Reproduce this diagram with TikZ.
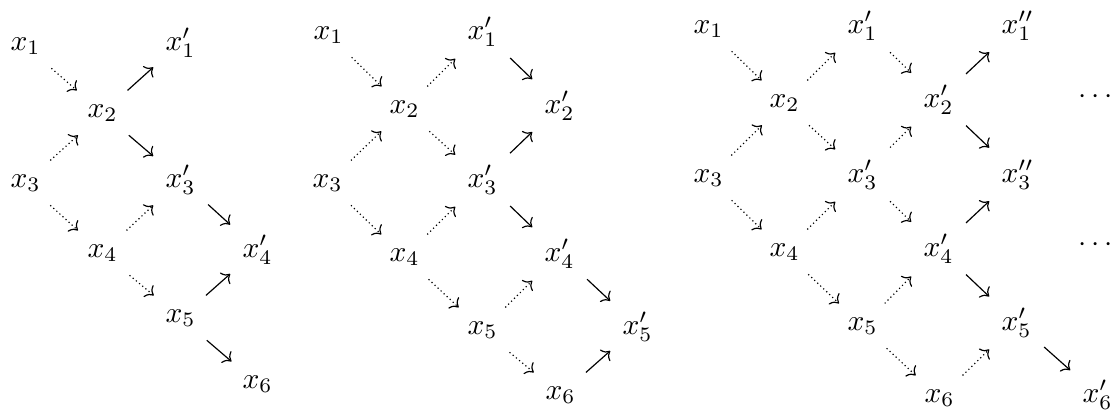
\documentclass[tikz,border=0pt]{standalone}
\usetikzlibrary{arrows.meta}
\begin{document}
\begin{tikzpicture}[x=0.339pt, y=-0.339pt,
  lab/.style={anchor=base west, inner xsep=4pt, inner ysep=4.5pt, xshift=-4pt},
  dotslab/.style={anchor=base west, inner sep=0pt},
  solarr/.style={-{Computer Modern Rightarrow}, line width=0.4pt},
  dotarr/.style={densely dotted, -{Computer Modern Rightarrow}, line width=0.4pt}]
\useasboundingbox (0,0) rectangle (1118,411);
% ---------- diagram 1 ----------
\node[lab] (a1)  at (10,50)   {$x_1$};
\node[lab] (a1p) at (165,50)  {$x'_1$};
\node[lab] (a2)  at (87,117)  {$x_2$};
\node[lab] (a3)  at (10,187)  {$x_3$};
\node[lab] (a3p) at (165,187) {$x'_3$};
\node[lab] (a4)  at (87,257)  {$x_4$};
\node[lab] (a4p) at (242,257) {$x'_4$};
\node[lab] (a5)  at (165,322) {$x_5$};
\node[lab] (a6)  at (242,388) {$x_6$};
\draw[dotarr] (a1) -- (a2);
\draw[dotarr] (a3) -- (a2);
\draw[solarr] (a2) -- (a1p);
\draw[solarr] (a2) -- (a3p);
\draw[dotarr] (a3) -- (a4);
\draw[dotarr] (a4) -- (a3p);
\draw[solarr] (a3p) -- (a4p);
\draw[dotarr] (a4) -- (a5);
\draw[solarr] (a5) -- (a4p);
\draw[solarr] (a5) -- (a6);
% ---------- diagram 2 ----------
\node[lab] (b1)  at (313,39)  {$x_1$};
\node[lab] (b1p) at (467,39)  {$x'_1$};
\node[lab] (b2)  at (389,113) {$x_2$};
\node[lab] (b2p) at (544,113) {$x'_2$};
\node[lab] (b3)  at (312,187) {$x_3$};
\node[lab] (b3p) at (467,187) {$x'_3$};
\node[lab] (b4)  at (389,261) {$x_4$};
\node[lab] (b4p) at (544,261) {$x'_4$};
\node[lab] (b5)  at (467,334) {$x_5$};
\node[lab] (b5p) at (622,334) {$x'_5$};
\node[lab] (b6)  at (545,399) {$x_6$};
\draw[dotarr] (b1) -- (b2);
\draw[dotarr] (b2) -- (b1p);
\draw[dotarr] (b3) -- (b2);
\draw[dotarr] (b2) -- (b3p);
\draw[solarr] (b1p) -- (b2p);
\draw[solarr] (b3p) -- (b2p);
\draw[dotarr] (b3) -- (b4);
\draw[dotarr] (b4) -- (b3p);
\draw[solarr] (b3p) -- (b4p);
\draw[dotarr] (b4) -- (b5);
\draw[dotarr] (b5) -- (b4p);
\draw[solarr] (b4p) -- (b5p);
\draw[dotarr] (b5) -- (b6);
\draw[solarr] (b6) -- (b5p);
% ---------- diagram 3 ----------
\node[lab] (c1)   at (693,33)   {$x_1$};
\node[lab] (c1p)  at (847,33)   {$x'_1$};
\node[lab] (c1pp) at (1001,33)  {$x''_1$};
\node[lab] (c2)   at (769,107)  {$x_2$};
\node[lab] (c2p)  at (923,107)  {$x'_2$};
\node[dotslab] (d1) at (1078,103) {$\cdots$};
\node[lab] (c3)   at (693,182)  {$x_3$};
\node[lab] (c3p)  at (847,182)  {$x'_3$};
\node[lab] (c3pp) at (1001,182) {$x''_3$};
\node[lab] (c4)   at (769,256)  {$x_4$};
\node[lab] (c4p)  at (923,256)  {$x'_4$};
\node[dotslab] (d2) at (1078,251) {$\cdots$};
\node[lab] (c5)   at (847,330)  {$x_5$};
\node[lab] (c5p)  at (1001,330) {$x'_5$};
\node[lab] (c6)   at (924,402)  {$x_6$};
\node[lab] (c6p)  at (1082,402) {$x'_6$};
\draw[dotarr] (c1) -- (c2);
\draw[dotarr] (c2) -- (c1p);
\draw[dotarr] (c3) -- (c2);
\draw[dotarr] (c2) -- (c3p);
\draw[dotarr] (c1p) -- (c2p);
\draw[dotarr] (c3p) -- (c2p);
\draw[solarr] (c2p) -- (c1pp);
\draw[solarr] (c2p) -- (c3pp);
\draw[dotarr] (c3) -- (c4);
\draw[dotarr] (c4) -- (c3p);
\draw[dotarr] (c3p) -- (c4p);
\draw[dotarr] (c5) -- (c4p);
\draw[solarr] (c4p) -- (c3pp);
\draw[solarr] (c4p) -- (c5p);
\draw[dotarr] (c4) -- (c5);
\draw[dotarr] (c5) -- (c6);
\draw[dotarr] (c6) -- (c5p);
\draw[solarr] (c5p) -- (c6p);
\end{tikzpicture}
\end{document}
